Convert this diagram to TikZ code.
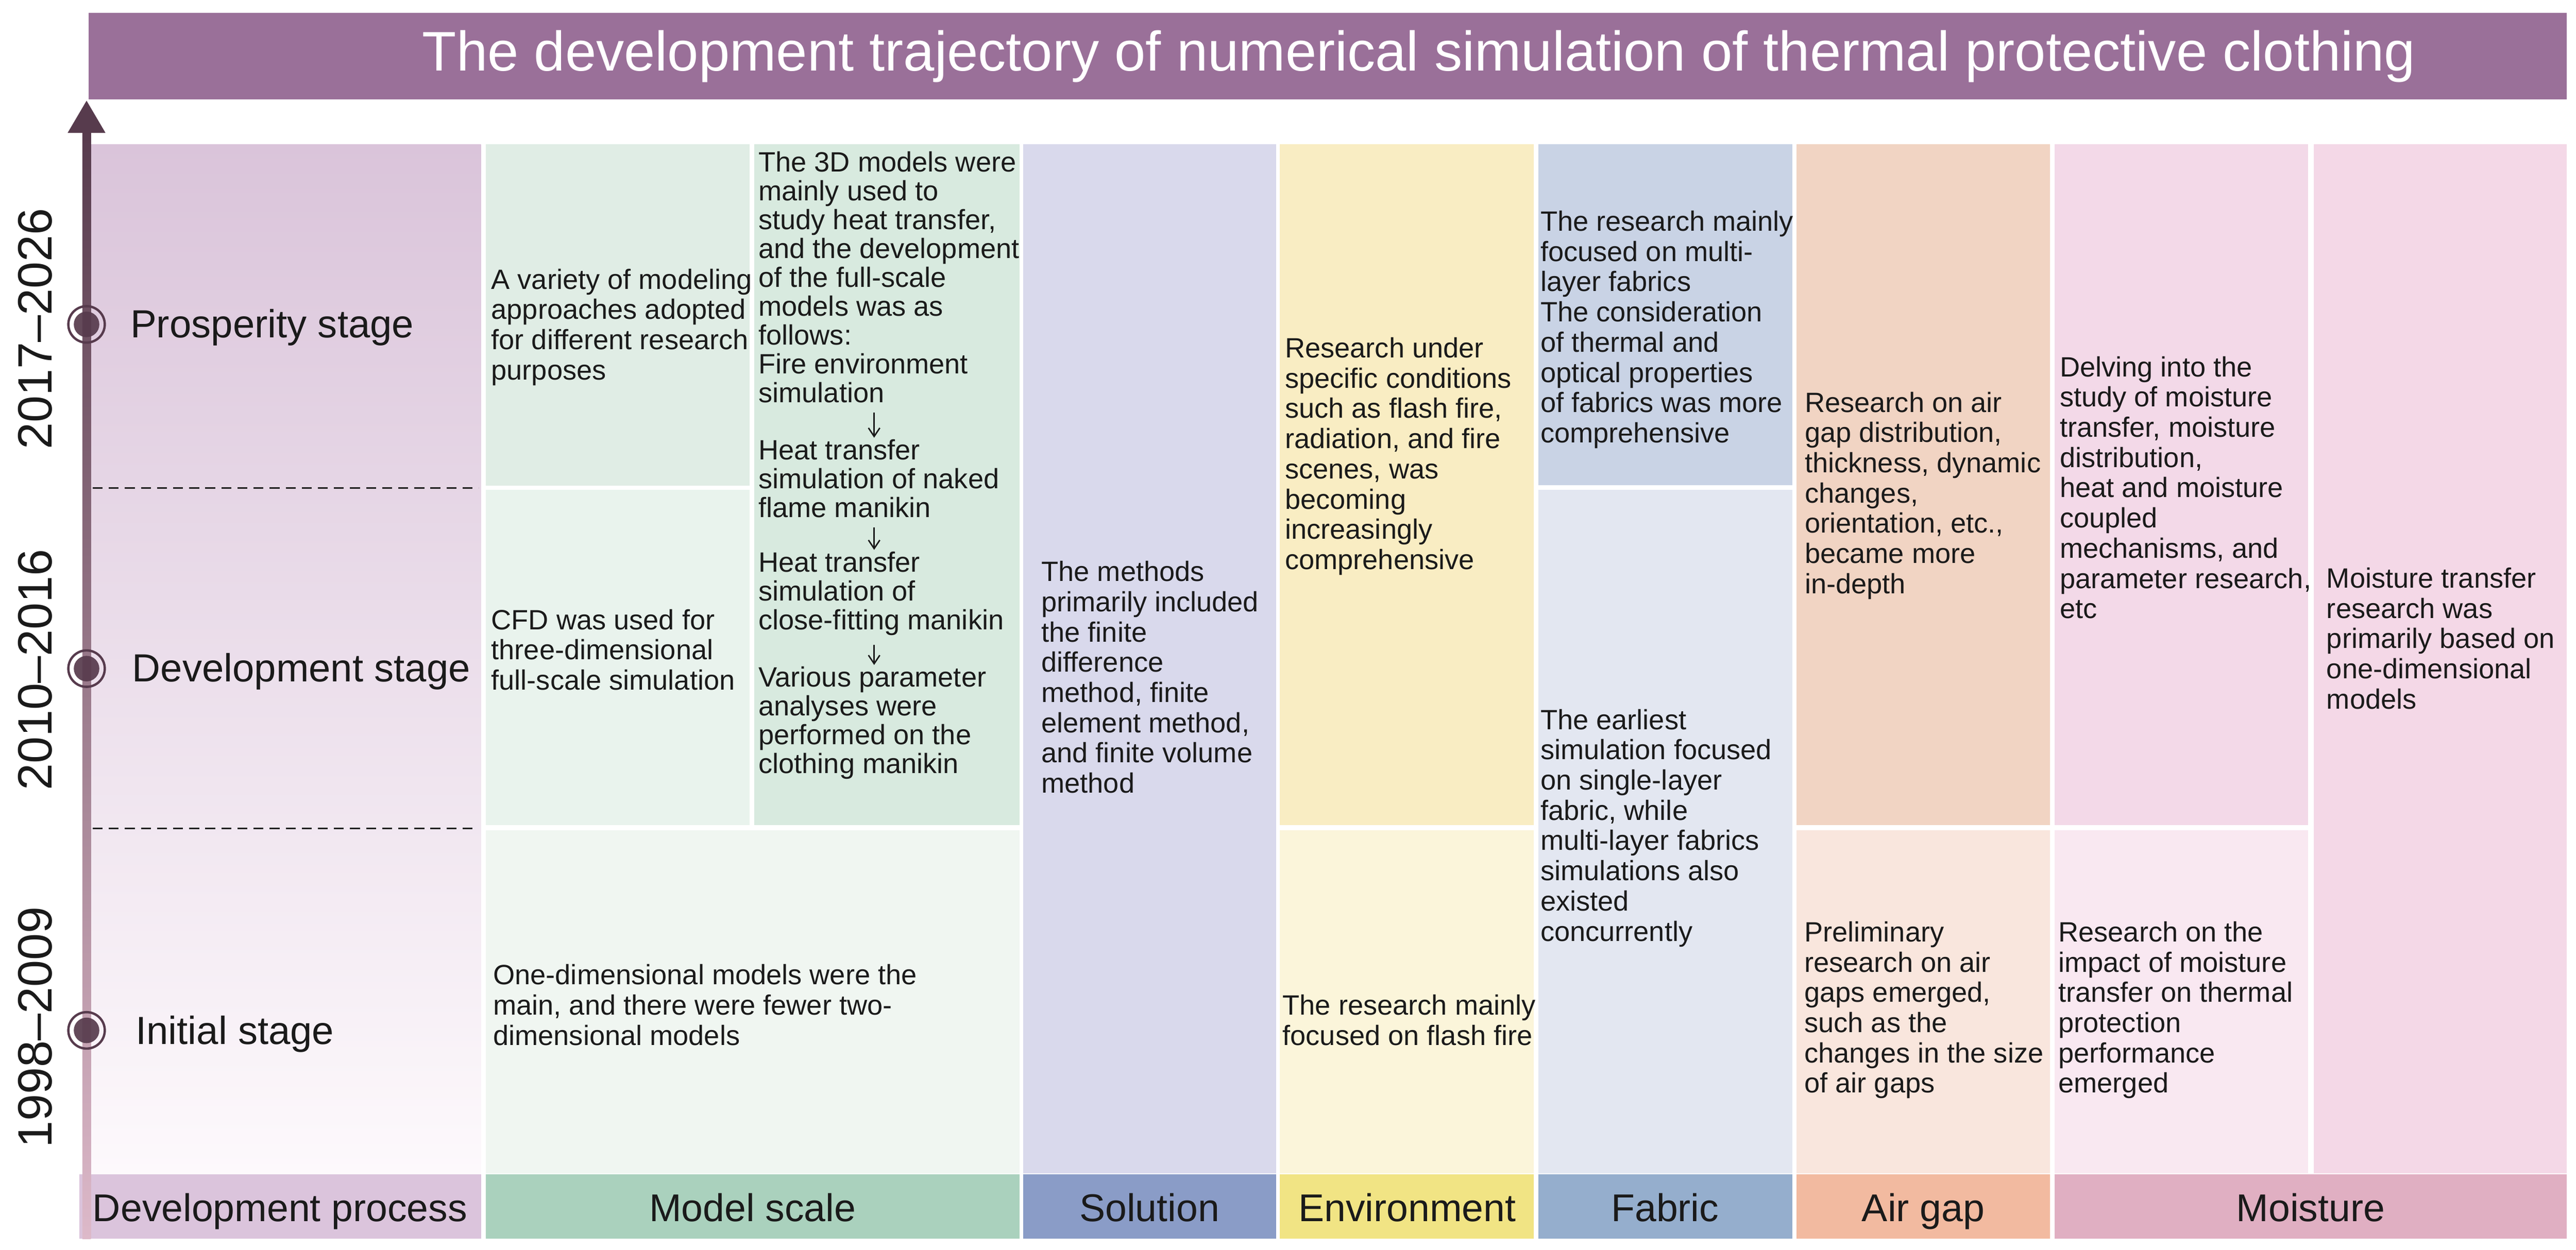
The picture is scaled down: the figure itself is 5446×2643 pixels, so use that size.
\documentclass[tikz,border=0pt]{standalone}
\usepackage{fontspec}
\setmainfont{Liberation Sans}
\usepackage{xcolor}
\usetikzlibrary{positioning,calc,arrows.meta}

\definecolor{bannerpurple}{HTML}{9A7099}
\definecolor{tldark}{HTML}{573B4D}
\definecolor{tllight}{HTML}{DDB9C9}
\definecolor{devtop}{HTML}{DAC4DA}
\definecolor{devbot}{HTML}{FDF9FC}
\definecolor{devhead}{HTML}{DBC4DC}
\definecolor{modelA}{HTML}{E0EDE5}
\definecolor{modelB}{HTML}{E9F3ED}
\definecolor{modelC}{HTML}{D8EADF}
\definecolor{modelD}{HTML}{F0F6F1}
\definecolor{modelhead}{HTML}{AAD1BD}
\definecolor{solfill}{HTML}{D9D9EC}
\definecolor{solhead}{HTML}{8A9CC7}
\definecolor{envA}{HTML}{F9EDC3}
\definecolor{envB}{HTML}{FBF5DA}
\definecolor{envhead}{HTML}{F1E484}
\definecolor{fabA}{HTML}{C9D3E5}
\definecolor{fabB}{HTML}{E3E7F1}
\definecolor{fabhead}{HTML}{95AECD}
\definecolor{airA}{HTML}{F1D4C3}
\definecolor{airB}{HTML}{F9E6DD}
\definecolor{airhead}{HTML}{F2BAA0}
\definecolor{moiA}{HTML}{F3D9E8}
\definecolor{moiB}{HTML}{F9E8F1}
\definecolor{moiC}{HTML}{F4D8E7}
\definecolor{moihead}{HTML}{E0AFC2}
\definecolor{ink}{HTML}{1A1A1A}

\begin{document}
\begin{tikzpicture}[x=0.1mm,y=-0.1mm,
    body/.style={anchor=west,align=left,inner sep=0pt,text=ink,font=\fontsize{16.8}{18.2}\selectfont},
    tight/.style={body,font=\fontsize{16.8}{17.35}\selectfont},
    head/.style={anchor=base,inner sep=0pt,text=ink,font=\fontsize{23.3}{26}\selectfont},
    stage/.style={anchor=base west,inner sep=0pt,text=ink,font=\fontsize{23.6}{26}\selectfont},
    years/.style={rotate=90,inner sep=0pt,text=ink,font=\fontsize{29}{32}\selectfont},
    ring/.style={circle,draw=tldark,line width=0.5mm,minimum size=7.7mm,inner sep=0pt},
    dot/.style={circle,fill=tldark,fill opacity=0.92,minimum size=5.4mm,inner sep=0pt},
    flow/.style={ink,line width=0.3mm,-{Straight Barb[length=1.8mm,width=2.4mm]},shorten <=2mm,shorten >=0.3mm}]

    % canvas
    \fill[white] (0,0) rectangle (5446,2643);
    \useasboundingbox (0,0) rectangle (5446,2643);

    % Title banner
    \fill[bannerpurple] (187,27) rectangle (5426,210);
    \node[anchor=base,inner sep=0pt,text=white,font=\fontsize{33.6}{36}\selectfont] (title) at (3000,150)
        {The development trajectory of numerical simulation of thermal protective clothing};

    % Development process column
    \shade[top color=devtop,bottom color=devbot] (190,305) rectangle (1017,2481);
    \fill[devhead] (168,2483) rectangle (1017,2620);
    \draw[ink,line width=0.4mm,dash pattern=on 2.1mm off 1.3mm] (196,1032) -- (1012,1032);
    \draw[ink,line width=0.4mm,dash pattern=on 2.1mm off 1.3mm] (196,1752) -- (1004,1752);

    % Model scale
    \fill[modelA] (1027,305) rectangle (1585,1027);
    \fill[modelB] (1027,1036) rectangle (1585,1745);
    \fill[modelC] (1595,305) rectangle (2155,1745);
    \fill[modelD] (1027,1756) rectangle (2155,2481);
    \fill[modelhead] (1027,2483) rectangle (2155,2620);

    % Solution
    \fill[solfill] (2163,305) rectangle (2698,2481);
    \fill[solhead] (2163,2483) rectangle (2698,2620);

    % Environment
    \fill[envA] (2706,305) rectangle (3243,1745);
    \fill[envB] (2706,1756) rectangle (3243,2481);
    \fill[envhead] (2706,2483) rectangle (3243,2620);

    % Fabric
    \fill[fabA] (3252,305) rectangle (3789,1026);
    \fill[fabB] (3252,1036) rectangle (3789,2481);
    \fill[fabhead] (3252,2483) rectangle (3789,2620);

    % Air gap
    \fill[airA] (3798,305) rectangle (4334,1745);
    \fill[airB] (3798,1756) rectangle (4334,2481);
    \fill[airhead] (3798,2483) rectangle (4334,2620);

    % Moisture
    \fill[moiA] (4344,305) rectangle (4880,1745);
    \fill[moiB] (4344,1756) rectangle (4880,2481);
    \fill[moiC] (4891,305) rectangle (5426,2481);
    \fill[moihead] (4344,2483) rectangle (5426,2620);

    % Time axis
    \coordinate (tltop) at (183,213);
    \coordinate (tlbot) at (183,2620);
    \shade[top color=tldark,bottom color=tllight] ($(tlbot)+(-9,0)$) rectangle ($(tltop)+(9,60)$);
    \fill[tldark] (tltop) -- ++(-40,68) -- ++(80,0) -- cycle;

    % Stages
    \node[ring] (mkP) at (183,686) {};
    \node[dot] (dotP) at (mkP) {};
    \node[ring] (mkD) at (183,1414) {};
    \node[dot] (dotD) at (mkD) {};
    \node[ring] (mkI) at (183,2179) {};
    \node[dot] (dotI) at (mkI) {};
    \node[stage] (stP) at (275,714) {Prosperity stage};
    \node[stage] (stD) at (279,1442) {Development stage};
    \node[stage] (stI) at (286,2208) {Initial stage};
    \node[years] (yrP) at (74,695) {2017–2026};
    \node[years] (yrD) at (74,1416) {2010–2016};
    \node[years] (yrI) at (74,2172) {1998–2009};

    % Cell texts
    \node[body] (mtA) at (1038,692) {A variety of modeling\\approaches adopted\\for different research\\purposes};
    \node[body] (mtB) at (1038,1374) {CFD was used for\\three-dimensional\\full-scale simulation};
    \node[tight] (fsA) at (1603,586) {The 3D models were\\mainly used to\\study heat transfer,\\and the development\\of the full-scale\\models was as\\follows:\\Fire environment\\simulation};
    \node[tight] (fsB) at (1603,1012) {Heat transfer\\simulation of naked\\flame manikin};
    \node[tight] (fsC) at (1603,1255) {Heat transfer\\simulation of\\close-fitting manikin};
    \node[tight] (fsD) at (1603,1529) {Various parameter\\analyses were\\performed on the\\clothing manikin};
    \coordinate (axC) at (1848,0);
    \draw[flow] (fsA.south -| axC) -- (fsB.north -| axC);
    \draw[flow] (fsB.south -| axC) -- (fsC.north -| axC);
    \draw[flow] (fsC.south -| axC) -- (fsD.north -| axC);
    \node[body] (mtD) at (1042,2125) {One-dimensional models were the\\main, and there were fewer two-\\dimensional models};
    \node[body] (soT) at (2201,1432) {The methods\\primarily included\\the finite\\difference\\method, finite\\element method,\\and finite volume\\method};
    \node[body] (evA) at (2716,965) {Research under\\specific conditions\\such as flash fire,\\radiation, and fire\\scenes, was\\becoming\\increasingly\\comprehensive};
    \node[body] (evB) at (2711,2157) {The research mainly\\focused on flash fire};
    \node[body] (fbA) at (3256,697) {The research mainly\\focused on multi-\\layer fabrics\\The consideration\\of thermal and\\optical properties\\of fabrics was more\\comprehensive};
    \node[body] (fbB) at (3256,1751) {The earliest\\simulation focused\\on single-layer\\fabric, while\\multi-layer fabrics\\simulations also\\existed\\concurrently};
    \node[body] (agA) at (3815,1048) {Research on air\\gap distribution,\\thickness, dynamic\\changes,\\orientation, etc.,\\became more\\in-depth};
    \node[body] (agB) at (3814,2136) {Preliminary\\research on air\\gaps emerged,\\such as the\\changes in the size\\of air gaps};
    \node[body] (msA) at (4354,1031) {Delving into the\\study of moisture\\transfer, moisture\\distribution,\\heat and moisture\\coupled\\mechanisms, and\\parameter research,\\etc};
    \node[body] (msB) at (4351,2136) {Research on the\\impact of moisture\\transfer on thermal\\protection\\performance\\emerged};
    \node[body] (msC) at (4918,1350) {Moisture transfer\\research was\\primarily based on\\one-dimensional\\models};

    % Column headings
    \node[head] (hDev) at (592,2583) {Development process};
    \node[head] (hMod) at (1591,2583) {Model scale};
    \node[head] (hSol) at (2430,2583) {Solution};
    \node[head] (hEnv) at (2975,2583) {Environment};
    \node[head] (hFab) at (3520,2583) {Fabric};
    \node[head] (hAir) at (4066,2583) {Air gap};
    \node[head] (hMoi) at (4885,2583) {Moisture};
\end{tikzpicture}
\end{document}
